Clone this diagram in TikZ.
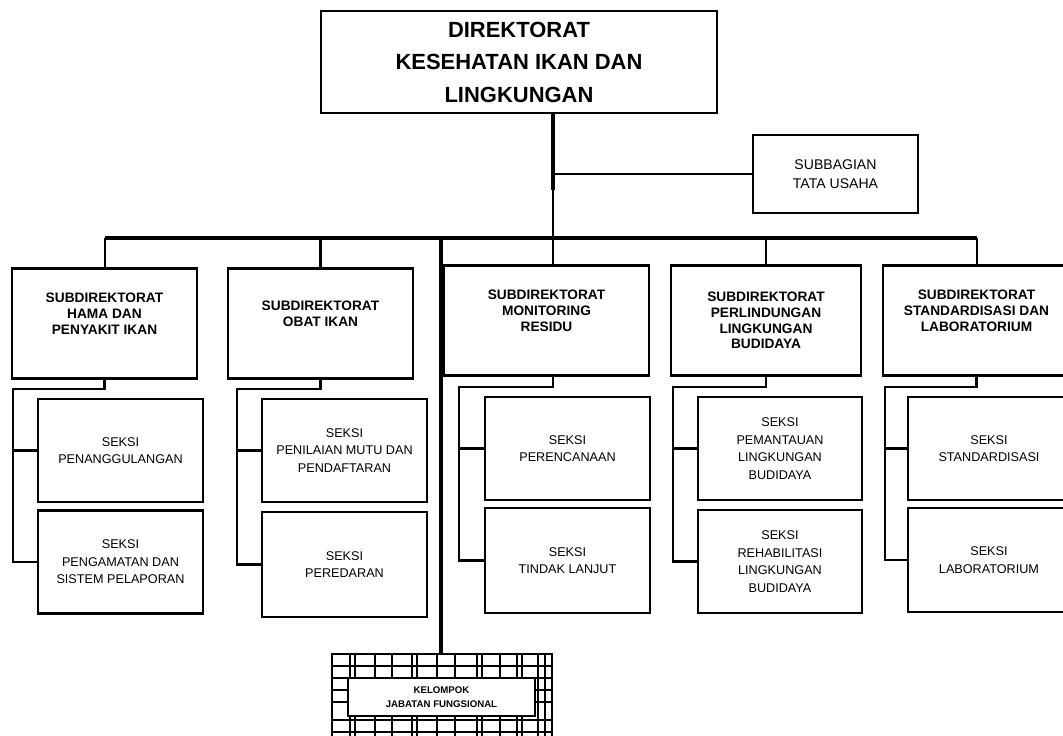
\documentclass[tikz,border=0pt]{standalone}
\usepackage{fontspec}
\setmainfont{Liberation Sans}
\begin{document}
\begin{tikzpicture}[x=0.02cm, y=-0.02cm,
		box/.style={draw, line width=1.6pt, align=center, inner sep=0pt},
		subdir/.style={box, minimum width=3.7cm, minimum height=2.2cm, font=\bfseries\fontsize{7.8}{9}\selectfont},
		seksi/.style={box, minimum width=3.3cm, minimum height=2.06cm, font=\fontsize{7.2}{10}\selectfont},
		link/.style={line width=1.3pt},
		bar/.style={line width=2.2pt}]
	\useasboundingbox (0,0) rectangle (1063,735);
	% pimpinan
	\node[box, minimum width=7.92cm, minimum height=2.04cm, font=\bfseries\fontsize{12.5}{18.5}\selectfont] (dir) at (519,62) {DIREKTORAT\\KESEHATAN IKAN DAN\\LINGKUNGAN};
	\node[box, line width=1.2pt, minimum width=3.3cm, minimum height=1.56cm, font=\fontsize{8}{11}\selectfont] (tu) at (835.5,174) {SUBBAGIAN\\TATA USAHA};
	% subdirektorat
	\node[subdir] (sd1) at (104.5,323.5) {SUBDIREKTORAT\\HAMA DAN\\PENYAKIT IKAN\\[2pt]};
	\node[subdir] (sd2) at (320.5,323.5) {SUBDIREKTORAT\\OBAT IKAN\\[2pt]};
	\node[subdir, minimum width=4.1cm] (sd3) at (546.5,320.5) {SUBDIREKTORAT\\MONITORING\\RESIDU\\[2pt]};
	\node[subdir, minimum width=3.8cm] (sd4) at (766,320.5) {SUBDIREKTORAT\\PERLINDUNGAN\\LINGKUNGAN\\BUDIDAYA};
	\node[subdir, minimum width=3.74cm] (sd5) at (976.5,320.5) {SUBDIREKTORAT\\STANDARDISASI DAN\\LABORATORIUM\\[2pt]};
	% seksi
	\node[seksi] (s1a) at (120.5,450.5) {SEKSI\\PENANGGULANGAN};
	\node[seksi] (s1b) at (120.5,562) {SEKSI\\PENGAMATAN DAN\\SISTEM PELAPORAN};
	\node[seksi] (s2a) at (344.5,450.5) {SEKSI\\PENILAIAN MUTU DAN\\PENDAFTARAN};
	\node[seksi, minimum height=2.1cm] (s2b) at (344.5,564.5) {SEKSI\\PEREDARAN};
	\node[seksi] (s3a) at (567.5,448.5) {SEKSI\\PERENCANAAN};
	\node[seksi, minimum height=2.1cm] (s3b) at (567.5,560.5) {SEKSI\\TINDAK LANJUT};
	\node[seksi, minimum width=3.28cm] (s4a) at (780,448.5) {SEKSI\\PEMANTAUAN\\LINGKUNGAN\\BUDIDAYA};
	\node[seksi, minimum width=3.28cm] (s4b) at (780,561.5) {SEKSI\\REHABILITASI\\LINGKUNGAN\\BUDIDAYA};
	\node[seksi, minimum width=3.24cm] (s5a) at (989,448.5) {SEKSI\\STANDARDISASI};
	\node[seksi, minimum width=3.24cm, minimum height=2.08cm] (s5b) at (989,560) {SEKSI\\LABORATORIUM};
	% kelompok jabatan fungsional
	\node[draw, line width=1.2pt, minimum width=4.4cm, minimum height=1.84cm, inner sep=0pt] (kel) at (442,700) {};
	\foreach \y in {666,678,690,702,720,732}
		\draw[line width=0.6pt] (kel.west |- 0,\y) -- (kel.east |- 0,\y);
	\foreach \x in {350,355,375,392,412,417,437,455,477,482,500,517,522,538,545}
		\draw[line width=0.6pt] (kel.north -| \x,0) -- (kel.south -| \x,0);
	\node[box, line width=1.2pt, fill=white, minimum width=3.74cm, minimum height=0.76cm, font=\bfseries\fontsize{5.5}{8}\selectfont] (jf) at (441.5,697) {KELOMPOK\\JABATAN FUNGSIONAL};
	% garis komando
	\coordinate (trunk) at (553,238);
	\coordinate (mid) at (553,190);
	\coordinate (barL) at (105,238);
	\coordinate (barR) at (977,238);
	\draw[line width=1.8pt] (dir.south -| trunk) -- (mid);
	\draw[link] (mid) -- (trunk);
	\draw[line width=0.7pt] (tu.west -| trunk) -- (tu.west);
	\draw[bar] (barL) -- (barR);
	\draw[link] (barL) -- (sd1.north -| barL);
	\draw[link] (sd2.north |- trunk) -- (sd2.north);
	\draw[link] (trunk) -- (sd3.north -| trunk);
	\draw[link] (sd4.north |- trunk) -- (sd4.north);
	\draw[link] (barR) -- (sd5.north -| barR);
	\draw[line width=1.8pt] (441,238) -- (kel.north -| 441,0);
	% seksi per subdirektorat
	\coordinate (k1) at (13,389);
	\coordinate (k2) at (237,389);
	\coordinate (k3) at (459,387);
	\coordinate (k4) at (673,387);
	\coordinate (k5) at (885,387);
	\draw[link] (sd1.south) |- (k1) |- (s1b.west);
	\draw[link] (k1 |- s1a.west) -- (s1a.west);
	\draw[link] (sd2.south) |- (k2) |- (s2b.west);
	\draw[link] (k2 |- s2a.west) -- (s2a.west);
	\draw[link] (sd3.south -| trunk) |- (k3) |- (s3b.west);
	\draw[link] (k3 |- s3a.west) -- (s3a.west);
	\draw[link] (sd4.south) |- (k4) |- (s4b.west);
	\draw[link] (k4 |- s4a.west) -- (s4a.west);
	\draw[link] (sd5.south) |- (k5) |- (s5b.west);
	\draw[link] (k5 |- s5a.west) -- (s5a.west);
\end{tikzpicture}
\end{document}
